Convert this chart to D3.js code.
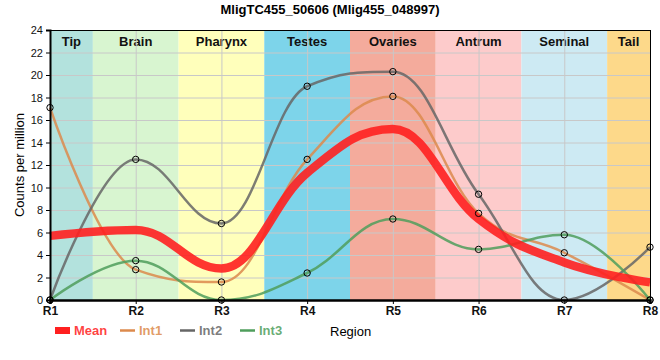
<!DOCTYPE html>
<html><head><meta charset="utf-8">
<script src="https://cdn.jsdelivr.net/npm/d3@7"></script>
<style>body{margin:0;background:#fff}svg{display:block;font-family:Arial,"Liberation Sans",sans-serif}</style>
</head><body><svg id="c" width="660" height="360"></svg>
<script>
const categories = ["R1","R2","R3","R4","R5","R6","R7","R8"];
const int1 = [17.1, 2.7, 1.6, 12.5, 18.1, 7.7, 4.2, 0];
const int2 = [0, 12.5, 6.8, 19.0, 20.3, 9.4, 0, 4.7];
const int3 = [0, 3.5, 0, 2.4, 7.2, 4.5, 5.8, 0];
const meanVals = categories.map((c,i)=>(int1[i]+int2[i]+int3[i])/3);
const regionNames = ["Tip","Brain","Pharynx","Testes","Ovaries","Antrum","Seminal","Tail"];
const regionColors = ["#b3e2dd","#d8f5d0","#ffffbb","#7dd4ea","#f4ab9c","#fdcbcb","#cdeaf3","#fdd98a"];
const yTicks = [0,2,4,6,8,10,12,14,16,18,20,22,24];
const seriesNames = ["Mean","Int1","Int2","Int3"];
const seriesColors = ["#ff2020","#dc8a4c","#666666","#4f9e5c"];

// Custom d3 curve: spline with horizontal tangents at extrema (smoothing 1.5)
function SplineCurve(context){ this._context = context; }
SplineCurve.prototype = {
  areaStart(){ this._line = 0; }, areaEnd(){ this._line = NaN; },
  lineStart(){ this._p = []; },
  point(x,y){ this._p.push([+x,+y]); },
  lineEnd(){
    const p = this._p, n = p.length, c = this._context, s = 1.5, den = s + 1;
    if(!n) return;
    const L = new Array(n), Rc = new Array(n);
    for(let i=0;i<n;i++){
      const [px,py] = p[i];
      if(i>0 && i<n-1){
        const [lx,ly] = p[i-1], [nx,ny] = p[i+1];
        let lcx=(s*px+lx)/den, lcy=(s*py+ly)/den, rcx=(s*px+nx)/den, rcy=(s*py+ny)/den, corr=0;
        if(rcx!==lcx) corr=((rcy-lcy)*(rcx-px))/(rcx-lcx)+py-rcy;
        lcy+=corr; rcy+=corr;
        if(lcy>ly && lcy>py){ lcy=Math.max(ly,py); rcy=2*py-lcy; }
        else if(lcy<ly && lcy<py){ lcy=Math.min(ly,py); rcy=2*py-lcy; }
        if(rcy>ny && rcy>py){ rcy=Math.max(ny,py); lcy=2*py-rcy; }
        else if(rcy<ny && rcy<py){ rcy=Math.min(ny,py); lcy=2*py-rcy; }
        L[i]=[lcx,lcy]; Rc[i]=[rcx,rcy];
      } else { L[i]=[px,py]; Rc[i]=[px,py]; }
    }
    c.moveTo(p[0][0],p[0][1]);
    for(let i=1;i<n;i++) c.bezierCurveTo(Rc[i-1][0],Rc[i-1][1],L[i][0],L[i][1],p[i][0],p[i][1]);
  }
};
const splineCurve = ctx => new SplineCurve(ctx);

const svg = d3.select("#c");
const Lx=50,Rx=650,T=30,B=300;
const x = d3.scalePoint().domain(categories).range([Lx,Rx]);
const y = d3.scaleLinear().domain([0,24]).range([B,T]);
const step = x.step();

// region bands
const bands = svg.append("g");
regionNames.forEach((n,i)=>{
  const x0 = Math.max(Lx, x(categories[i]) - step/2);
  const x1 = Math.min(Rx, x(categories[i]) + step/2);
  bands.append("rect").attr("x",x0).attr("y",T).attr("width",x1-x0).attr("height",B-T).attr("fill",regionColors[i]);
  bands.append("text").attr("x",(x0+x1)/2).attr("y",T+16).attr("text-anchor","middle")
    .attr("font-size",13).attr("font-weight","bold").attr("fill","#111").text(n);
});
// grid
const grid = svg.append("g").attr("stroke","#c8c8c8").attr("stroke-width",1);
yTicks.forEach(t=>{ if(t>0) grid.append("line").attr("x1",Lx).attr("x2",Rx).attr("y1",y(t)+0.5).attr("y2",y(t)+0.5); });
categories.forEach(c=>grid.append("line").attr("x1",x(c)+0.5).attr("x2",x(c)+0.5).attr("y1",T).attr("y2",B));

// lines
const line = d3.line().x((d,i)=>x(categories[i])).y(d=>y(d)).curve(splineCurve);
const allSeries = [meanVals,int1,int2,int3];
const widths = [8.5,2.5,2.5,2.5];
const g = svg.append("g");
[1,2,3,0].forEach(k=>{
  g.append("path").datum(allSeries[k]).attr("d",line).attr("fill","none")
   .attr("stroke",seriesColors[k]).attr("stroke-width",widths[k]).attr("stroke-opacity",k===0?0.9:0.85)
   .attr("stroke-linejoin","round");
});
[1,2,3].forEach(k=>{
  g.selectAll(null).data(allSeries[k]).enter().append("circle")
   .attr("cx",(d,i)=>x(categories[i])).attr("cy",d=>y(d)).attr("r",3.2)
   .attr("fill","none").attr("stroke","#000").attr("stroke-width",1);
});

// frame
svg.append("rect").attr("x",Lx+0.5).attr("y",T+0.5).attr("width",Rx-Lx).attr("height",B-T).attr("fill","none").attr("stroke","#000");
// axes
const ya = svg.append("g").attr("transform",`translate(${Lx},0)`).call(d3.axisLeft(y).tickValues(yTicks).tickSize(4).tickPadding(3));
ya.select(".domain").attr("stroke-width",2);
ya.selectAll("text").attr("font-size",11).attr("font-family","Arial, sans-serif").attr("fill","#111");
const xa = svg.append("g").attr("transform",`translate(0,${B})`).call(d3.axisBottom(x).tickSize(4).tickPadding(2));
xa.select(".domain").attr("stroke-width",2.5);
xa.selectAll("text").attr("font-size",12).attr("font-weight","bold").attr("font-family","Arial, sans-serif").attr("fill","#111");

// title
svg.append("text").attr("x",330).attr("y",14).attr("text-anchor","middle").attr("font-size",13).attr("font-weight","bold").text("MligTC455_50606 (Mlig455_048997)");
// y label
svg.append("text").attr("transform","translate(24,165) rotate(-90)").attr("text-anchor","middle").attr("font-size",13).text("Counts per million");
// x label
svg.append("text").attr("x",330).attr("y",336).attr("font-size",13).text("Region");

// legend
const lg = svg.append("g");
const lx = [55,120,180,240];
seriesNames.forEach((n,k)=>{
  if(k===0) lg.append("rect").attr("x",lx[k]).attr("y",327).attr("width",15).attr("height",7).attr("fill",seriesColors[k]);
  else lg.append("line").attr("x1",lx[k]).attr("x2",lx[k]+15).attr("y1",330.5).attr("y2",330.5).attr("stroke",seriesColors[k]).attr("stroke-width",2.5);
  lg.append("text").attr("x",lx[k]+19).attr("y",335).attr("font-size",13).attr("font-weight","bold").attr("fill",seriesColors[k]).attr("fill-opacity",0.85).text(n);
});
</script></body></html>
